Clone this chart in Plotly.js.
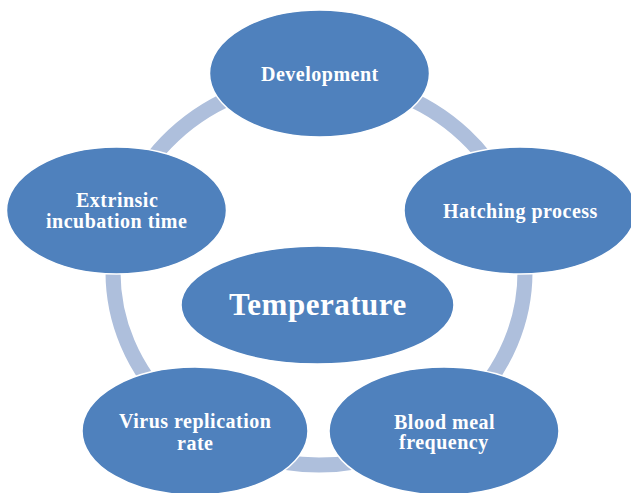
<!DOCTYPE html>
<html>
<head>
<meta charset="utf-8">
<script src="https://cdn.plot.ly/plotly-3.0.1.min.js"></script>
<style>
  html, body { margin: 0; padding: 0; background: #ffffff; }
  #chart { width: 631px; height: 493px; }
  .annotation-text { letter-spacing: 0.5px; }
</style>
</head>
<body>
<div id="chart"></div>
<script>
// ---- data ----
const centerLabel = "Temperature";
const nodeLabels = [
  "Development",
  "Hatching process",
  "Blood meal<br>frequency",
  "Virus replication<br>rate",
  "Extrinsic<br>incubation time"
];

// ---- layout geometry (pixel-like data units, y downwards) ----
const W = 631, H = 493;
const nodeGeom = [
  {cx: 319.5, cy: 73.5,  rx: 110, ry: 63.5, ty: 74},
  {cx: 520,   cy: 210.5, rx: 116, ry: 63.5, ty: 211},
  {cx: 444,   cy: 431,   rx: 115, ry: 64,   ty: 432},
  {cx: 195,   cy: 431,   rx: 113, ry: 64,   ty: 432},
  {cx: 116.5, cy: 210.5, rx: 110, ry: 63.5, ty: 210.5}
];
const centerGeom = {cx: 317.5, cy: 305, rx: 136.5, ry: 59, ty: 304};
const ring = {cx: 319, cy: 272, rx: 206, ry: 193, width: 15};

const NODE_FILL = "#4F81BD";
const RING_COLOR = "#AEBFDC";
const FONT = "Liberation Serif, Times New Roman, serif";
const LINE_GAP = 21;

const shapes = [];
shapes.push({
  type: "circle", xref: "x", yref: "y",
  x0: ring.cx - ring.rx, x1: ring.cx + ring.rx,
  y0: ring.cy - ring.ry, y1: ring.cy + ring.ry,
  line: {color: RING_COLOR, width: ring.width},
  fillcolor: "rgba(0,0,0,0)"
});
function ellipse(g) {
  return {
    type: "circle", xref: "x", yref: "y",
    x0: g.cx - g.rx, x1: g.cx + g.rx,
    y0: g.cy - g.ry, y1: g.cy + g.ry,
    fillcolor: NODE_FILL,
    line: {color: "#ffffff", width: 1.5}
  };
}
nodeGeom.forEach(g => shapes.push(ellipse(g)));
shapes.push(ellipse(centerGeom));

const annotations = [];
nodeLabels.forEach((lab, i) => {
  const g = nodeGeom[i];
  const lines = lab.split("<br>");
  const n = lines.length;
  lines.forEach((ln, k) => {
    annotations.push({
      x: g.cx, y: g.ty + (k - (n - 1) / 2) * LINE_GAP,
      xref: "x", yref: "y", text: ln, showarrow: false,
      xanchor: "center", yanchor: "middle",
      font: {family: FONT, size: 20, color: "#ffffff", weight: "bold"}
    });
  });
});
annotations.push({
  x: centerGeom.cx, y: centerGeom.ty, xref: "x", yref: "y",
  text: centerLabel, showarrow: false, xanchor: "center", yanchor: "middle",
  font: {family: FONT, size: 31, color: "#ffffff", weight: "bold"}
});

const layout = {
  width: W, height: H,
  margin: {l: 0, r: 0, t: 0, b: 0, pad: 0},
  paper_bgcolor: "#ffffff", plot_bgcolor: "#ffffff",
  xaxis: {range: [0, W], visible: false, fixedrange: true},
  yaxis: {range: [H, 0], visible: false, fixedrange: true},
  shapes: shapes,
  annotations: annotations,
  showlegend: false
};

Plotly.newPlot("chart", [], layout, {staticPlot: true, displayModeBar: false});
</script>
</body>
</html>
